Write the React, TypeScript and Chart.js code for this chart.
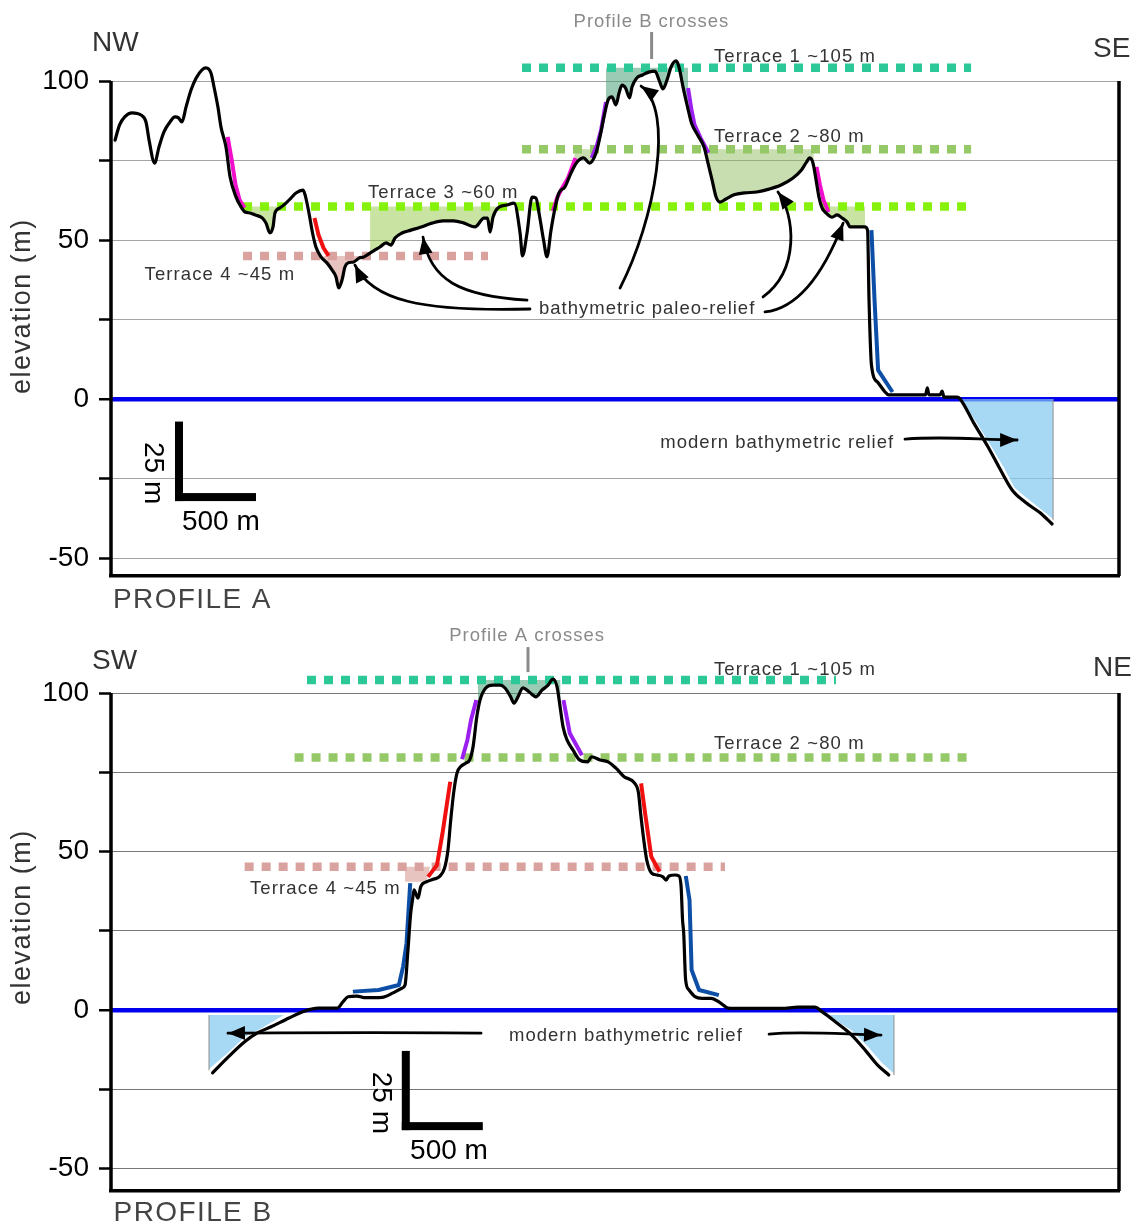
import React, { useEffect, useRef } from 'react';
import { Chart, registerables } from 'chart.js';

Chart.register(...registerables);

const FONT = '"Liberation Sans", Arial, Helvetica, sans-serif';
const X_MAX = 6222; // metres along profile
const FRAME_TOP = 100;
const Y_TICKS = [-50, -25, 0, 25, 50, 75, 100];

// ---------------- PROFILE A (NW -> SE) ----------------
const distA = [25,53,86,130,185,216,235,269,296,327,364,395,417,438,463,494,525,562,586,617,636,660,679,710,735,772,796,827,858,889,935,957,981,1000,1012,1043,1080,1111,1142,1185,1198,1222,1244,1265,1296,1333,1364,1389,1405,1426,1444,1463,1498,1531,1562,1599,1630,1660,1698,1728,1753,1796,1852,1914,1981,2049,2115,2179,2247,2302,2324,2340,2358,2389,2444,2488,2525,2540,2568,2599,2623,2642,2670,2691,2716,2741,2765,2802,2840,2877,2917,2954,2994,3018,3043,3068,3092,3117,3136,3154,3176,3201,3216,3244,3281,3319,3358,3383,3407,3432,3457,3488,3506,3531,3559,3583,3621,3661,3685,3710,3735,3759,3796,3846,3911,3986,4062,4136,4210,4262,4293,4313,4333,4352,4370,4389,4414,4451,4482,4513,4543,4562,4602,4652,4670,4679,4694,4732,4778,4800,4846,4913,5028,5039,5049,5117,5130,5142,5222,5241,5325,5414,5481,5562,5642,5735,5809];
const elevA = [81.4,86.2,88.8,90.0,89.3,87.1,81.4,74.2,79.2,84.0,87.1,88.7,88.4,87.1,91.8,97.2,100.9,103.5,104.1,102.5,98.1,91.8,85.5,79.2,69.8,63.5,61.0,58.8,58.5,57.9,56.9,55.3,52.2,54.1,58.5,60.1,61.6,63.2,64.8,65.7,64.2,58.5,52.2,47.8,44.7,42.8,40.6,38.4,34.9,37.4,41.5,42.8,43.1,44.3,44.7,45.9,46.9,47.8,49.1,48.4,50.6,52.2,53.1,54.1,55.3,56.0,56.0,55.3,54.1,56.9,56.9,52.5,57.2,60.1,61.0,61.6,52.2,45.0,52.2,63.5,63.2,58.5,50.0,44.7,53.1,60.1,64.8,66.7,71.1,74.5,75.8,74.2,77.4,82.4,88.7,94.0,95.0,92.5,96.2,98.7,97.8,94.7,98.1,100.9,101.9,102.8,103.1,100.3,97.5,100.3,104.4,106.3,104.4,98.1,91.8,86.8,83.0,79.2,74.2,68.9,63.5,61.9,62.9,64.2,64.8,65.1,66.0,67.3,69.5,72.0,74.5,75.8,74.2,68.9,63.5,60.1,58.5,57.2,57.9,56.9,55.7,54.1,54.1,54.1,53.1,31.1,10.7,5.3,2.2,1.3,1.3,1.3,1.3,3.5,1.3,1.3,2.5,0.6,0.6,0,-7.5,-15.1,-21.4,-28.6,-32.4,-35.8,-39.3];

// slope highlights, profile A
const magentaA1X = [720,745,769,794,824];
const magentaA1Y = [82.4,75.2,67.3,62.6,60.1];
const redA1X = [1256,1281,1312,1343];
const redA1Y = [56.9,51.6,47.5,45.0];
const magentaA2X = [2728,2753,2778,2821,2867];
const magentaA2Y = [59.1,63.2,65.7,69.5,75.8];
const purpleA1X = [2967,3000,3025,3055];
const purpleA1Y = [75.8,79.9,84.6,93.4];
const purpleA2X = [3562,3583,3602,3639,3688];
const purpleA2Y = [97.8,90.9,86.2,82.1,77.4];
const magentaA3X = [4355,4376,4398,4429];
const magentaA3Y = [73.0,67.3,62.6,58.8];
const blueA1X = [4694,4713,4735,4824];
const blueA1Y = [53.1,31.1,9.1,2.2];

// terraces, profile A (T1, T2, T3, T4)
const terraceIdA = [1, 2, 3, 4];
const terraceLevelA = [104.2, 78.5, 60.5, 45.0];
const terraceFromA = [2537, 2537, 815, 815];
const terraceToA = [5309, 5309, 5315, 2327];

// paleo-relief fills, profile A
const fillIdA = [3, 3, 4, 1, 2, 2, 3];
const fillLevelA = [60.5, 60.5, 45.0, 104.2, 78.5, 78.5, 60.5];
const fillFromA = [815, 1599, 1310, 3055, 2860, 3672, 4389];
const fillToA = [1056, 2389, 1580, 3562, 2990, 4338, 4654];

// modern bathymetric relief, profile A
const modernAX = [5244,5325,5439,5506,5571,5642,5815];
const modernAY = [-0.3,-6.6,-16.0,-21.7,-28.0,-31.1,-38.1];

// ---------------- PROFILE B (SW -> NE) ----------------
const distB = [627,726,825,901,988,1099,1198,1278,1398,1432,1463,1519,1562,1673,1741,1796,1815,1833,1850,1861,1870,1895,1912,1949,1994,2025,2059,2080,2097,2115,2136,2159,2191,2214,2235,2258,2278,2313,2358,2401,2432,2467,2488,2512,2543,2580,2623,2660,2698,2728,2753,2772,2790,2815,2852,2892,2942,2967,3018,3068,3117,3167,3232,3256,3269,3286,3307,3337,3370,3407,3426,3444,3481,3506,3519,3528,3535,3547,3568,3605,3648,3704,3763,3809,3911,4139,4241,4344,4389,4481,4572,4664,4732,4801];
const elevB = [-19.8,-14.7,-10.0,-7.3,-5.3,-2.5,-0.3,0.6,0.6,2.6,4.2,4.4,3.9,4.0,5.4,6.9,7.9,18.9,30.6,34.7,37.9,35.3,38.9,40.5,41.3,42.0,44.8,50.5,59.9,68.5,74.8,76.8,77.9,78.9,83.1,92.5,97.8,101.6,102.5,102.5,101.6,98.8,96.8,98.8,101.6,100.4,98.8,100.9,102.5,104.4,102.0,95.7,89.4,85.2,82.0,78.9,78.3,79.9,78.9,78.3,76.3,73.6,71.6,68.5,62.1,54.7,47.3,43.2,42.6,42.0,41.0,42.3,42.6,42.3,38.9,28.4,24.3,9.5,6.3,4.2,3.7,3.7,2.2,0.6,0.5,0.5,0.9,0.9,-0.5,-4.1,-7.9,-13.2,-17.4,-20.5];

const purpleB1X = [2167,2200,2222,2255];
const purpleB1Y = [79.1,85.2,91.5,97.8];
const redB1X = [1957,2012,2046,2094];
const redB1Y = [42.0,45.7,55.7,72.0];
const blueB1X = [1493,1652,1777,1803,1824,1847];
const blueB1Y = [5.8,6.3,7.9,13.7,21.0,40.0];
const purpleB2X = [2793,2832,2907];
const purpleB2Y = [97.8,87.3,80.4];
const redB2X = [3272,3297,3335,3386];
const redB2Y = [71.5,62.0,48.4,43.6];
const blueB2X = [3548,3571,3584,3630,3752];
const blueB2Y = [42.3,34.7,12.6,6.3,4.7];

const terraceIdB = [1, 2, 4];
const terraceLevelB = [104.1, 79.7, 45.2];
const terraceFromB = [1210, 1133, 825];
const terraceToB = [4475, 5319, 3790];

const fillB1Level = 104.1;
const fillB1From = 2265;
const fillB1To = 2775;
const fillB4Level = 45.2;
const fillB4X = [1815, 1912, 1949, 1969];
const fillB4Y = [40.5, 40.5, 41.0, 45.2];

const modernB1X = [605, 726, 825, 924, 1078];
const modernB1Y = [-19.0, -13.7, -8.9, -6.3, -1.6];
const modernB2X = [4414, 4572, 4664, 4753, 4833];
const modernB2Y = [-1.6, -6.8, -11.6, -16.8, -20.5];
const modernLevelB = -1.6;

// ---------------- styles ----------------
const TERRACE_DOT: Record<number, string> = { 1: '#2dc897', 2: '#95c967', 3: '#86f20c', 4: '#d9a29e' };
const TERRACE_FILL: Record<number, string> = {
  1: 'rgba(75,160,120,0.55)',
  2: 'rgba(145,189,97,0.5)',
  3: 'rgba(147,199,71,0.5)',
  4: 'rgba(209,137,129,0.5)',
};
const MAGENTA = '#f010cc';
const PURPLE = '#9b20f0';
const RED = '#f01010';
const DBLUE = '#0d4ea6';
const SEA = 'rgba(130,200,240,0.7)';

// ---------------- helpers ----------------
function pts(xs: number[], ys: number[]) {
  return xs.map((x, i) => ({ x, y: ys[i] }));
}
function interp(xs: number[], ys: number[], x: number) {
  for (let i = 0; i < xs.length - 1; i++) {
    if (x >= xs[i] && x <= xs[i + 1]) {
      const t = (x - xs[i]) / (xs[i + 1] - xs[i]);
      return ys[i] + t * (ys[i + 1] - ys[i]);
    }
  }
  return ys[ys.length - 1];
}
function section(xs: number[], ys: number[], from: number, to: number) {
  const out = [{ x: from, y: interp(xs, ys, from) }];
  xs.forEach((x, i) => { if (x > from && x < to) out.push({ x, y: ys[i] }); });
  out.push({ x: to, y: interp(xs, ys, to) });
  return out;
}
function lineDs(data: any[], color: string, width: number, extra: any = {}) {
  return {
    type: 'line', data, borderColor: color, borderWidth: width, pointRadius: 0,
    fill: false, tension: 0, borderJoinStyle: 'round', ...extra,
  };
}
function terraceDs(level: number, from: number, to: number, id: number) {
  return lineDs([{ x: from, y: level }, { x: to, y: level }], TERRACE_DOT[id], 8.5, {
    borderDash: [9, 8], borderCapStyle: 'butt', borderJoinStyle: 'miter',
  });
}
function fillDs(data: any[], level: number, color: string, border = 'rgba(0,0,0,0)', bw = 1) {
  return lineDs(data, border, bw, { fill: { value: level }, backgroundColor: color });
}
function profileDs(xs: number[], ys: number[]) {
  return lineDs(pts(xs, ys), '#000', 3.2, { cubicInterpolationMode: 'monotone', borderCapStyle: 'round' });
}

// ---------------- annotations ----------------
type TextAnn = { t: string; x: number; y: number; size: number; color: string; align?: CanvasTextAlign; rot?: number; spacing?: number; baseline?: CanvasTextBaseline };

const textsA: TextAnn[] = [
  { t: 'NW', x: -117, y: 109.4, size: 28, color: '#333' },
  { t: 'SE', x: 6062, y: 107.5, size: 28, color: '#333' },
  { t: 'Profile B crosses', x: 3336, y: 117.0, size: 18.5, color: '#8a8a8a', align: 'center', spacing: 1 },
  { t: 'Terrace 1 ~105 m', x: 3722, y: 106.0, size: 18.5, color: '#333', spacing: 1.1 },
  { t: 'Terrace 2 ~80 m', x: 3722, y: 80.8, size: 18.5, color: '#333', spacing: 1.1 },
  { t: 'Terrace 3 ~60 m', x: 1586, y: 63.2, size: 18.5, color: '#333', spacing: 1.1 },
  { t: 'Terrace 4 ~45 m', x: 207, y: 37.4, size: 18.5, color: '#333', spacing: 1.1 },
  { t: 'bathymetric paleo-relief', x: 2642, y: 26.7, size: 18.5, color: '#333', spacing: 1 },
  { t: 'modern bathymetric relief', x: 3391, y: -15.4, size: 18.5, color: '#333', spacing: 1 },
  { t: 'PROFILE A', x: 12, y: -65.7, size: 28, color: '#444', spacing: 1.4 },
  { t: '500 m', x: 438, y: -41.2, size: 28, color: '#000' },
  { t: '25 m', x: 210, y: -23.3, size: 28, color: '#000', align: 'center', rot: 90 },
  { t: 'elevation (m)', x: -549, y: 29.2, size: 27, color: '#333', align: 'center', rot: -90, baseline: 'middle', spacing: 1.5 },
];
const arrowsA = [
  [[2586, 28.3], [1907, 27.4], [1611, 31.1], [1506, 42.1]],
  [[2568, 31.1], [2154, 32.4], [1969, 37.4], [1926, 50.9]],
  [[3142, 34.9], [3358, 56.3], [3481, 90.9], [3272, 98.4]],
  [[4025, 32.1], [4253, 40.6], [4222, 57.9], [4117, 65.1]],
  [[4037, 27.4], [4253, 28.6], [4407, 40.6], [4519, 55.3]],
  [[4901, -12.6], [5179, -11.6], [5364, -12.9], [5593, -12.9]],
];
const marksA = [{ x: 3337, y1: 115.4, y2: 106.9 }];
const scaleBarA = { x: 395, y: -32.1, dx: 500, dy: 25 };
const seaEdgeA = { x: 5815, y1: 0, y2: -38.1 };

const textsB: TextAnn[] = [
  { t: 'SW', x: -117, y: 107.6, size: 28, color: '#333' },
  { t: 'NE', x: 6062, y: 105.4, size: 28, color: '#333' },
  { t: 'Profile A crosses', x: 2568, y: 116.4, size: 18.5, color: '#8a8a8a', align: 'center', spacing: 1 },
  { t: 'Terrace 1 ~105 m', x: 3722, y: 105.7, size: 18.5, color: '#333', spacing: 1.1 },
  { t: 'Terrace 2 ~80 m', x: 3722, y: 82.3, size: 18.5, color: '#333', spacing: 1.1 },
  { t: 'Terrace 4 ~45 m', x: 858, y: 36.6, size: 18.5, color: '#333', spacing: 1.1 },
  { t: 'modern bathymetric relief', x: 2457, y: -9.8, size: 18.5, color: '#333', spacing: 1 },
  { t: 'PROFILE B', x: 16, y: -66.6, size: 28, color: '#444', spacing: 1.4 },
  { t: '500 m', x: 1846, y: -47.0, size: 28, color: '#000' },
  { t: '25 m', x: 1617, y: -29.3, size: 28, color: '#000', align: 'center', rot: 90 },
  { t: 'elevation (m)', x: -549, y: 29.3, size: 27, color: '#333', align: 'center', rot: -90, baseline: 'middle', spacing: 1.5 },
];
const arrowsB = [
  [[2284, -7.3], [1700, -7.0], [1100, -7.2], [722, -7.3]],
  [[4062, -7.6], [4253, -6.6], [4500, -7.6], [4753, -7.9]],
];
const marksB = [{ x: 2574, y1: 114.5, y2: 106.6 }];
const scaleBarB = { x: 1795, y: -37.9, dx: 500, dy: 25 };

function overlayPlugin(id: string, texts: TextAnn[], arrows: number[][][], marks: any[], bar: any, seaEdges: any[]) {
  return {
    id,
    afterDatasetsDraw(chart: any) {
      const { ctx } = chart;
      const xs = chart.scales.x;
      const ys = chart.scales.y;
      ctx.save();
      ctx.strokeStyle = '#8f8f8f';
      ctx.lineWidth = 1;
      seaEdges.forEach((e) => {
        ctx.beginPath();
        ctx.moveTo(xs.getPixelForValue(e.x), ys.getPixelForValue(e.y1));
        ctx.lineTo(xs.getPixelForValue(e.x), ys.getPixelForValue(e.y2));
        ctx.stroke();
      });
      ctx.restore();
    },
    afterDraw(chart: any) {
      const { ctx, chartArea: ca } = chart;
      const xs = chart.scales.x;
      const ys = chart.scales.y;
      const X = (v: number) => xs.getPixelForValue(v);
      const Y = (v: number) => ys.getPixelForValue(v);
      ctx.save();
      // frame sides
      ctx.strokeStyle = '#000';
      ctx.lineWidth = 3.5;
      ctx.beginPath();
      ctx.moveTo(ca.left, Y(FRAME_TOP));
      ctx.lineTo(ca.left, ca.bottom);
      ctx.moveTo(ca.right, Y(FRAME_TOP));
      ctx.lineTo(ca.right, ca.bottom);
      ctx.stroke();

      // crossing marks
      ctx.strokeStyle = '#8a8a8a';
      ctx.lineWidth = 3;
      marks.forEach((m) => {
        ctx.beginPath();
        ctx.moveTo(X(m.x), Y(m.y1));
        ctx.lineTo(X(m.x), Y(m.y2));
        ctx.stroke();
      });

      // arrows
      arrows.forEach((a) => {
        const p = a.map(([x, y]) => [X(x), Y(y)]);
        ctx.strokeStyle = '#000';
        ctx.fillStyle = '#000';
        ctx.lineWidth = 2.8;
        ctx.lineCap = 'round';
        ctx.beginPath();
        ctx.moveTo(p[0][0], p[0][1]);
        ctx.bezierCurveTo(p[1][0], p[1][1], p[2][0], p[2][1], p[3][0], p[3][1]);
        ctx.stroke();
        const dx = p[3][0] - p[2][0];
        const dy = p[3][1] - p[2][1];
        const len = Math.hypot(dx, dy) || 1;
        const ux = dx / len, uy = dy / len;
        const L = 17, W = 7;
        const bx = p[3][0] - ux * L, by = p[3][1] - uy * L;
        ctx.beginPath();
        ctx.moveTo(p[3][0], p[3][1]);
        ctx.lineTo(bx - uy * W, by + ux * W);
        ctx.lineTo(bx + uy * W, by - ux * W);
        ctx.closePath();
        ctx.fill();
      });

      // scale bar
      const cx = X(bar.x), cy = Y(bar.y);
      const tx = Y(bar.y + bar.dy), rx = X(bar.x + bar.dx);
      ctx.fillStyle = '#000';
      ctx.fillRect(cx, tx, 8, cy - tx);
      ctx.fillRect(cx, cy - 8, rx - cx, 8);

      // texts
      texts.forEach((t) => {
        ctx.save();
        ctx.font = `${t.size}px ${FONT}`;
        ctx.fillStyle = t.color;
        ctx.textAlign = t.align || 'left';
        ctx.textBaseline = t.baseline || 'alphabetic';
        try { (ctx as any).letterSpacing = `${t.spacing || 0}px`; } catch (e) { /* ignore */ }
        ctx.translate(X(t.x), Y(t.y));
        if (t.rot) ctx.rotate((t.rot * Math.PI) / 180);
        ctx.fillText(t.t, 0, 0);
        ctx.restore();
      });
      ctx.restore();
    },
  };
}

// ---------------- chart specs ----------------
function datasetsA() {
  const ds: any[] = [];
  ds.push(profileDs(distA, elevA));
  ds.push(lineDs(pts(magentaA1X, magentaA1Y), MAGENTA, 4));
  ds.push(lineDs(pts(redA1X, redA1Y), RED, 4));
  ds.push(lineDs(pts(magentaA2X, magentaA2Y), MAGENTA, 4));
  ds.push(lineDs(pts(purpleA1X, purpleA1Y), PURPLE, 4));
  ds.push(lineDs(pts(purpleA2X, purpleA2Y), PURPLE, 4));
  ds.push(lineDs(pts(magentaA3X, magentaA3Y), MAGENTA, 4));
  ds.push(lineDs(pts(blueA1X, blueA1Y), DBLUE, 4));
  terraceLevelA.forEach((lv, i) => ds.push(terraceDs(lv, terraceFromA[i], terraceToA[i], terraceIdA[i])));
  fillLevelA.forEach((lv, i) =>
    ds.push(fillDs(section(distA, elevA, fillFromA[i], fillToA[i]), lv, TERRACE_FILL[fillIdA[i]])));
  ds.push(fillDs(pts(modernAX, modernAY), 0, SEA, '#ffffff', 2));
  return ds;
}
function datasetsB() {
  const ds: any[] = [];
  ds.push(profileDs(distB, elevB));
  ds.push(lineDs(pts(purpleB1X, purpleB1Y), PURPLE, 4));
  ds.push(lineDs(pts(redB1X, redB1Y), RED, 4));
  ds.push(lineDs(pts(blueB1X, blueB1Y), DBLUE, 4));
  ds.push(lineDs(pts(purpleB2X, purpleB2Y), PURPLE, 4));
  ds.push(lineDs(pts(redB2X, redB2Y), RED, 4));
  ds.push(lineDs(pts(blueB2X, blueB2Y), DBLUE, 4));
  terraceLevelB.forEach((lv, i) => ds.push(terraceDs(lv, terraceFromB[i], terraceToB[i], terraceIdB[i])));
  ds.push(fillDs(section(distB, elevB, fillB1From, fillB1To), fillB1Level, TERRACE_FILL[1]));
  ds.push(fillDs(pts(fillB4X, fillB4Y), fillB4Level, TERRACE_FILL[4]));
  ds.push(fillDs(pts(modernB1X, modernB1Y), modernLevelB, SEA, '#ffffff', 2));
  ds.push(fillDs(pts(modernB2X, modernB2Y), modernLevelB, SEA, '#ffffff', 2));
  return ds;
}

type Spec = {
  id: string; datasets: any[]; padTop: number; padBottom: number; yMin: number; yMax: number;
  gridColor: string; plugin: any;
};

function buildConfig(s: Spec): any {
  return {
    type: 'line',
    data: { datasets: s.datasets },
    options: {
      responsive: false,
      animation: false,
      devicePixelRatio: 1,
      events: [],
      layout: { padding: { top: s.padTop, bottom: s.padBottom, left: 0, right: 20 } },
      plugins: { legend: { display: false }, tooltip: { enabled: false }, title: { display: false } },
      scales: {
        x: {
          type: 'linear', min: 0, max: X_MAX,
          ticks: { display: false },
          grid: { display: false, drawTicks: false },
          border: { display: true, color: '#000', width: 3.5 },
          afterFit: (sc: any) => { sc.height = 0; },
        },
        y: {
          type: 'linear', min: s.yMin, max: s.yMax,
          afterFit: (sc: any) => { sc.width = 111; },
          afterBuildTicks: (sc: any) => { sc.ticks = Y_TICKS.map((v) => ({ value: v })); },
          ticks: {
            color: '#000',
            padding: 10,
            font: { family: FONT, size: 28 },
            callback: (v: any) => (Number(v) % 50 === 0 ? String(v) : ''),
          },
          grid: {
            color: (c: any) => (c.tick && c.tick.value === 0 ? '#0000ee' : s.gridColor),
            lineWidth: (c: any) => (c.tick && c.tick.value === 0 ? 4.5 : 1),
            tickColor: '#000',
            tickWidth: 2.5,
            tickLength: 12,
            drawTicks: true,
          },
          border: { display: false },
        },
      },
    },
    plugins: [s.plugin],
  };
}

const specA: Spec = {
  id: 'A', datasets: datasetsA(), padTop: 33.3, padBottom: 37, yMin: -55.66, yMax: 115,
  gridColor: '#a3a3a3', plugin: overlayPlugin('overlayA', textsA, arrowsA, marksA, scaleBarA, [seaEdgeA]),
};
const specB: Spec = {
  id: 'B', datasets: datasetsB(), padTop: 32.5, padBottom: 36, yMin: -57.1, yMax: 115,
  gridColor: '#777777', plugin: overlayPlugin('overlayB', textsB, arrowsB, marksB, scaleBarB, [
    { x: 605, y1: modernLevelB, y2: -19.0 },
    { x: 4833, y1: modernLevelB, y2: -20.5 },
  ]),
};

function ProfileChart({ spec, height }: { spec: Spec; height: number }) {
  const ref = useRef<HTMLCanvasElement>(null);
  useEffect(() => {
    if (!ref.current) return;
    const chart = new Chart(ref.current, buildConfig(spec));
    return () => chart.destroy();
  }, [spec]);
  return <canvas ref={ref} width={1139} height={height} style={{ display: 'block', width: 1139, height }} />;
}

export default function App() {
  return (
    <div style={{ position: 'absolute', left: 0, top: 0, width: 1139, height: 1227, overflow: 'hidden', background: '#fff' }}>
      <ProfileChart spec={specA} height={613} />
      <ProfileChart spec={specB} height={614} />
    </div>
  );
}
